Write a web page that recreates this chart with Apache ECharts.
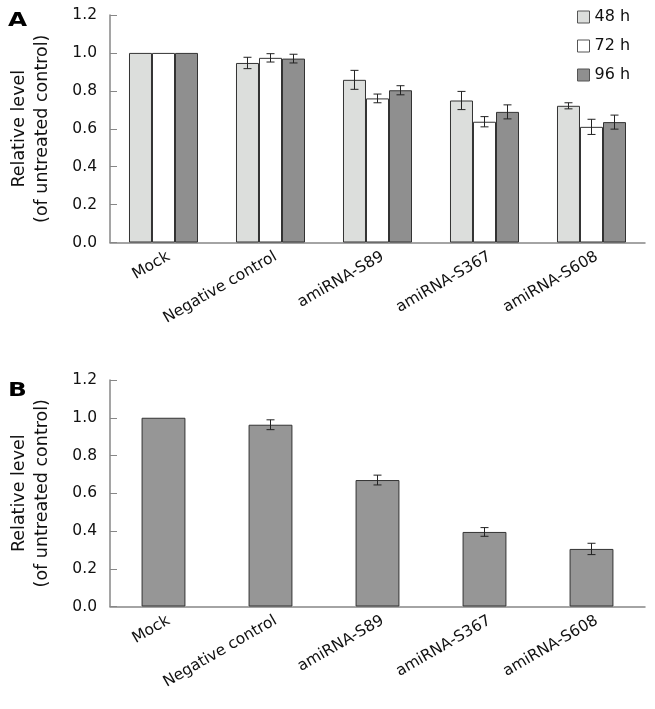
<!DOCTYPE html>
<html>
<head>
<meta charset="utf-8">
<script src="https://cdn.jsdelivr.net/npm/echarts@6/dist/echarts.min.js"></script>
<style>
html,body{margin:0;padding:0;background:#fff;}
#chart{width:655px;height:709px;}
</style>
</head>
<body>
<div id="chart"></div>
<script>
// ---- data ----
const categories = ['Mock', 'Negative control', 'amiRNA-S89', 'amiRNA-S367', 'amiRNA-S608'];
const seriesNames = ['48 h', '72 h', '96 h'];
const a48 = [1.0, 0.947, 0.858, 0.749, 0.721];
const a72 = [1.0, 0.974, 0.760, 0.637, 0.610];
const a96 = [1.0, 0.970, 0.803, 0.689, 0.635];
const a48Err = [0, 0.030, 0.050, 0.048, 0.016];
const a72Err = [0, 0.022, 0.023, 0.027, 0.040];
const a96Err = [0, 0.023, 0.024, 0.037, 0.037];
const bValues = [1.0, 0.963, 0.670, 0.395, 0.305];
const bErr = [0, 0.026, 0.026, 0.023, 0.030];
const yMin = 0, yMax = 1.2, yStep = 0.2;
const panelLabels = ['A', 'B'];
const yAxisTitle = 'Relative level\n(of untreated control)';

// ---- styles ----
const FONT = 'DejaVu Sans';
const AXIS = '#878787';
const EDGE = '#333333';
const colors = ['#dcdedc', '#ffffff', '#8f8f8f'];
const colorB = '#969696';
const groupBarFrac = 0.215;   // bar width as fraction of category band (panel A)
const singleBarFrac = 0.41;   // panel B

function errRender(offsetFrac) {
  return function (params, api) {
    const i = api.value(0), v = api.value(1), e = api.value(2);
    if (!e) return null;
    const band = api.size([1, 0])[0];
    const x = api.coord([i, v])[0] + offsetFrac * band;
    const yt = api.coord([i, v + e])[1];
    const yb = api.coord([i, v - e])[1];
    const w = 4;
    const st = { stroke: '#222', lineWidth: 1 };
    return {
      type: 'group',
      children: [
        { type: 'line', shape: { x1: x, y1: yt, x2: x, y2: yb }, style: st },
        { type: 'line', shape: { x1: x - w, y1: yt, x2: x + w, y2: yt }, style: st },
        { type: 'line', shape: { x1: x - w, y1: yb, x2: x + w, y2: yb }, style: st }
      ]
    };
  };
}

function errData(vals, errs) { return vals.map((v, i) => [i, v, errs[i]]); }

function xAxisCfg(gi) {
  return {
    type: 'category', gridIndex: gi, data: categories,
    axisLine: { lineStyle: { color: AXIS, width: 1.5 } },
    axisTick: { inside: true, length: 7, lineStyle: { color: AXIS } },
    axisLabel: { rotate: 30, interval: 0, margin: 16, fontSize: 15.5, fontFamily: FONT, color: '#111',
                 padding: [0, -6, 0, 0] }
  };
}
function yAxisCfg(gi) {
  return {
    type: 'value', gridIndex: gi, min: yMin, max: yMax, interval: yStep,
    name: yAxisTitle, nameLocation: 'middle', nameRotate: 90, nameGap: 56,
    nameTextStyle: { fontSize: 17.5, fontFamily: FONT, color: '#111', lineHeight: 23 },
    axisLine: { show: true, lineStyle: { color: AXIS, width: 1.5 } },
    axisTick: { show: true, inside: true, length: 7, lineStyle: { color: AXIS } },
    axisLabel: { margin: 13, fontSize: 15.5, fontFamily: FONT, color: '#111', formatter: v => v.toFixed(1) },
    splitLine: { show: false }
  };
}

const aSeries = [a48, a72, a96];
const aErrs = [a48Err, a72Err, a96Err];
const series = [];
aSeries.forEach((vals, k) => {
  series.push({
    name: seriesNames[k], type: 'bar', xAxisIndex: 0, yAxisIndex: 0,
    data: vals, barWidth: (groupBarFrac * 100) + '%', barGap: '0%',
    itemStyle: { color: colors[k], borderColor: EDGE, borderWidth: 1 }
  });
});
aSeries.forEach((vals, k) => {
  series.push({
    type: 'custom', xAxisIndex: 0, yAxisIndex: 0, z: 5,
    data: errData(vals, aErrs[k]),
    encode: { x: 0, y: 1 },
    renderItem: errRender((k - 1) * groupBarFrac)
  });
});
series.push({
  name: 'B', type: 'bar', xAxisIndex: 1, yAxisIndex: 1,
  data: bValues, barWidth: (singleBarFrac * 100) + '%',
  itemStyle: { color: colorB, borderColor: EDGE, borderWidth: 1 }
});
series.push({
  type: 'custom', xAxisIndex: 1, yAxisIndex: 1, z: 5,
  data: errData(bValues, bErr), encode: { x: 0, y: 1 },
  renderItem: errRender(0)
});

const chart = echarts.init(document.getElementById('chart'), null, { renderer: 'canvas' });
chart.setOption({
  animation: false,
  backgroundColor: '#fff',
  graphic: [
    { type: 'text', x: 8, y: 12, scaleX: 1.3,
      style: { text: panelLabels[0], font: 'bold 19px "DejaVu Sans"', fill: '#000' } },
    { type: 'text', x: 8, y: 382, scaleX: 1.3,
      style: { text: panelLabels[1], font: 'bold 19px "DejaVu Sans"', fill: '#000' } }
  ],
  legend: {
    data: seriesNames, orient: 'vertical', left: 572, top: 4,
    itemWidth: 12, itemHeight: 12, itemGap: 13, icon: 'rect',
    textStyle: { fontSize: 16, fontFamily: FONT, color: '#111' },
    itemStyle: { borderColor: '#555', borderWidth: 1 }
  },
  grid: [
    { left: 110, right: 10, top: 15, height: 227.5 },
    { left: 110, right: 10, top: 380, height: 226.5 }
  ],
  xAxis: [xAxisCfg(0), xAxisCfg(1)],
  yAxis: [yAxisCfg(0), yAxisCfg(1)],
  series: series
});
</script>
</body>
</html>
